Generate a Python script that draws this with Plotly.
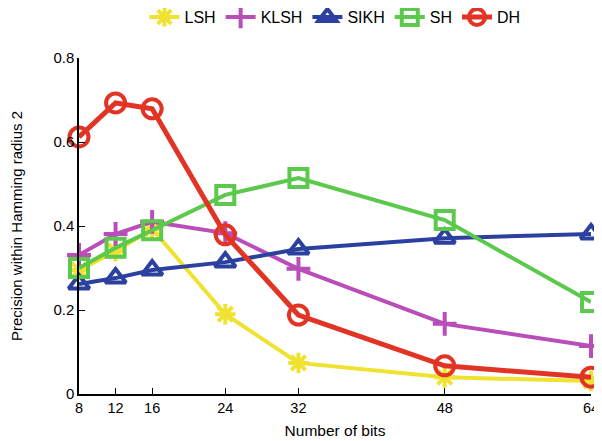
import plotly.graph_objects as go

bits = [8, 12, 16, 24, 32, 48, 64]
lsh = [0.295, 0.34, 0.393, 0.19, 0.074, 0.04, 0.031]
klsh = [0.331, 0.381, 0.41, 0.383, 0.298, 0.167, 0.114]
sikh = [0.262, 0.276, 0.295, 0.314, 0.345, 0.371, 0.381]
sh = [0.30, 0.348, 0.39, 0.474, 0.514, 0.414, 0.219]
dh = [0.612, 0.693, 0.679, 0.379, 0.188, 0.067, 0.040]

series = [
    ("LSH", lsh, "#EFE230", "asterisk-open", 4, 17),
    ("KLSH", klsh, "#B94DB9", "cross-thin-open", 4, 17),
    ("SIKH", sikh, "#2C40A0", "triangle-up-open", 4, 18),
    ("SH", sh, "#5BC94B", "square-open", 4, 18),
    ("DH", dh, "#E23425", "circle-open", 5, 19),
]

fig = go.Figure()
for name, ys, color, sym, lw, ms in series:
    fig.add_trace(go.Scatter(
        x=bits, y=ys, name=name, mode="lines+markers",
        line=dict(color=color, width=lw),
        marker=dict(symbol=sym, size=ms, color=color, line=dict(color=color, width=4)),
        cliponaxis=False,
    ))

fig.update_layout(
    width=594, height=433,
    margin=dict(l=71, r=11, t=50, b=47),
    paper_bgcolor="white", plot_bgcolor="white",
    font=dict(family="Liberation Sans, Arial, sans-serif", size=15, color="black"),
    showlegend=True,
    legend=dict(orientation="h", x=0.5, xanchor="center", yref="container",
                y=0.979, yanchor="middle",
                font=dict(size=16), itemwidth=30, tracegroupgap=0),
)
fig.update_xaxes(
    range=[8, 64], tickvals=bits, ticktext=[str(b) for b in bits],
    showgrid=False, zeroline=False, showline=True, linecolor="black", linewidth=1.5,
    ticks="inside", ticklen=6, tickcolor="black", automargin=False,
    ticklabeloverflow="allow",
    title=dict(text="Number of bits", font=dict(size=15.5), standoff=10),
    tickfont=dict(size=14.5),
)
fig.update_yaxes(
    range=[0, 0.8], tickvals=[0, 0.2, 0.4, 0.6, 0.8], ticktext=["0", "0.2", "0.4", "0.6", "0.8"],
    showgrid=False, zeroline=False, showline=True, linecolor="black", linewidth=1.5,
    ticks="inside", ticklen=6, tickcolor="black", automargin=False,
    title=dict(text="Precision within Hamming radius 2", font=dict(size=15), standoff=27),
    tickfont=dict(size=15),
)

fig.write_html("out.html")
